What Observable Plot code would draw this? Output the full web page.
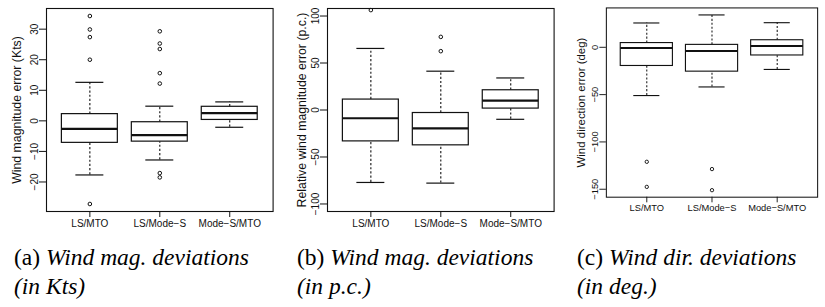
<!DOCTYPE html>
<html><head><meta charset="utf-8">
<script src="https://cdn.jsdelivr.net/npm/d3@7"></script>
<script src="https://cdn.jsdelivr.net/npm/@observablehq/plot@0.6"></script>
<style>
body{margin:0;background:#fff;overflow:hidden;width:825px;height:307px}
#wrap{position:relative;width:825px;height:307px;overflow:hidden;background:#fff}
.panel{position:absolute;top:0}
.cap{position:absolute;top:243px;font-family:"Liberation Serif","Times New Roman",serif;font-size:23.5px;line-height:28.7px;color:#000;white-space:nowrap}
.cap i{font-style:italic}
</style></head><body>
<div id="wrap"></div>
<script>
const categories = ["LS/MTO", "LS/Mode\u2212S", "Mode\u2212S/MTO"];

// (a) wind magnitude error (Kts)
const magLow  = [-17.7, -12.8, -2.1];
const magQ1   = [-7.2, -6.8, 0.3];
const magMed  = [-2.6, -4.7, 2.5];
const magQ3   = [2.2, -0.45, 4.6];
const magHigh = [12.6, 4.8, 6.2];
const magOut  = [[34.3, 29.9, 27.4, 20.0, -27.2], [29.3, 25.3, 23.5, 15.6, 12.2, -17.1, -18.5], []];
const magTicks = [-20, -10, 0, 10, 20, 30];

// (b) relative wind magnitude error (p.c.)
const relLow  = [-77.1, -77.8, -9.9];
const relQ1   = [-33.4, -37.6, 1.5];
const relMed  = [-8.8, -19.5, 10];
const relQ3   = [11.1, -3.2, 21];
const relHigh = [65.5, 41.3, 34.1];
const relOut  = [[106.3], [77.8, 62.6], []];
const relTicks = [-100, -50, 0, 50, 100];
const relLim = [-100, 100];

// (c) wind direction error (deg)
const dirLow  = [-51, -41.9, -23.4];
const dirQ1   = [-19.7, -25.7, -8.6];
const dirMed  = [-0.7, -4, 1.3];
const dirQ3   = [4.5, 2.6, 7.5];
const dirHigh = [25.7, 34.2, 26];
const dirOut  = [[-121, -147.5], [-128.7, -151], []];
const dirTicks = [-150, -100, -50, 0];

const titles = ["Wind magnitude error (Kts)", "Relative wind magnitude error (p.c.)", "Wind direction error (deg)"];
const captionLabels = ["(a)", "(b)", "(c)"];
const captionLine1 = ["Wind mag. deviations", "Wind mag. deviations", "Wind dir. deviations"];
const captionLine2 = ["(in Kts)", "(in p.c.)", "(in deg.)"];

function expand([a, b]) { const p = (b - a) * 0.04; return [a - p, b + p]; }

const INK = "#111";
function panel({low, q1, med, q3, high, outliers, domain, ticks, title, titleDx}) {
  const boxes = categories.map((c, i) => ({pos: i + 1, low: low[i], q1: q1[i], med: med[i], q3: q3[i], high: high[i]}));
  const outs = outliers.flatMap((arr, i) => arr.map(v => ({pos: i + 1, v})));
  return Plot.plot({
    width: 281, height: 240,
    marginLeft: 46, marginRight: 8.4, marginTop: 8, marginBottom: 29,
    x: {type: "linear", domain: [0.38, 3.62]},
    y: {domain},
    style: {fontFamily: "'Liberation Sans', Arial, sans-serif", fontSize: "10px", color: INK, background: "white"},
    marks: [
      Plot.ruleX(boxes, {x: "pos", y1: "q3", y2: "high", stroke: INK, strokeWidth: 1.1, strokeDasharray: "2.2,2"}),
      Plot.ruleX(boxes, {x: "pos", y1: "low", y2: "q1", stroke: INK, strokeWidth: 1.1, strokeDasharray: "2.2,2"}),
      Plot.ruleY(boxes, {y: "high", x1: d => d.pos - 0.2, x2: d => d.pos + 0.2, stroke: INK, strokeWidth: 1.2}),
      Plot.ruleY(boxes, {y: "low", x1: d => d.pos - 0.2, x2: d => d.pos + 0.2, stroke: INK, strokeWidth: 1.2}),
      Plot.rect(boxes, {x1: d => d.pos - 0.4, x2: d => d.pos + 0.4, y1: "q1", y2: "q3", fill: "white", stroke: INK, strokeWidth: 1.2}),
      Plot.ruleY(boxes, {y: "med", x1: d => d.pos - 0.4, x2: d => d.pos + 0.4, stroke: INK, strokeWidth: 2.2}),
      Plot.dot(outs, {x: "pos", y: "v", r: 1.8, stroke: INK, strokeWidth: 1, fill: "none"}),
      Plot.frame({stroke: INK, strokeWidth: 1.1}),
      Plot.axisX({ticks: [1, 2, 3], tickFormat: i => categories[i - 1], tickSize: 6, tickPadding: 2, label: null}),
      Plot.axisY({ticks, tickSize: 7, tickPadding: 2, tickRotate: -90, label: null}),
      Plot.text([title], {text: d => d, frameAnchor: "left", textAnchor: "middle", lineAnchor: "middle", rotate: -90, dx: titleDx, fontSize: 12.3, fill: INK})
    ]
  });
}

const all = (lo, hi, out) => [Math.min(...lo, ...out.flat()), Math.max(...hi, ...out.flat())];

const specs = [
  {low: magLow, q1: magQ1, med: magMed, q3: magQ3, high: magHigh, outliers: magOut, domain: expand(all(magLow, magHigh, magOut)), ticks: magTicks, title: titles[0], titleDx: -29},
  {low: relLow, q1: relQ1, med: relMed, q3: relQ3, high: relHigh, outliers: relOut, domain: expand(relLim), ticks: relTicks, title: titles[1], titleDx: -25},
  {low: dirLow, q1: dirQ1, med: dirMed, q3: dirQ3, high: dirHigh, outliers: dirOut, domain: expand(all(dirLow, dirHigh, dirOut)), ticks: dirTicks, title: titles[2], titleDx: -27}
];
const panelLeft = [0, 281, 563];
const capLeft = [14, 297, 577];
const wrap = document.getElementById("wrap");
specs.forEach((s, i) => {
  const d = document.createElement("div");
  d.className = "panel";
  d.style.left = panelLeft[i] + "px";
  d.appendChild(panel(s));
  wrap.appendChild(d);
  const c = document.createElement("div");
  c.className = "cap";
  c.style.left = capLeft[i] + "px";
  c.innerHTML = captionLabels[i] + " <i>" + captionLine1[i] + "</i><br><i>" + captionLine2[i] + "</i>";
  wrap.appendChild(c);
});
</script>
</body></html>
